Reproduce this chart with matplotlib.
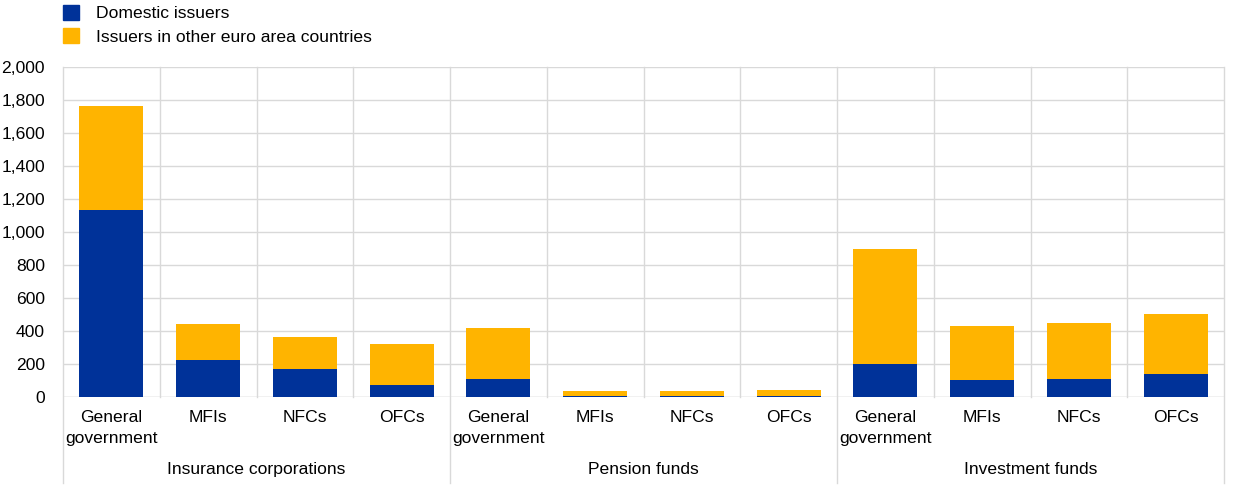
import matplotlib
matplotlib.use("Agg")
import matplotlib.pyplot as plt
from matplotlib.lines import Line2D
from matplotlib.patches import Patch
import matplotlib.transforms as mtransforms

plt.rcParams['font.family'] = ['Liberation Sans', 'DejaVu Sans']

groups = ["Insurance corporations", "Pension funds", "Investment funds"]
sectors = ["General\ngovernment", "MFIs", "NFCs", "OFCs"]
domestic = [1134, 226, 167, 72,
            110, 9, 4, 9,
            203, 102, 108, 137]
total = [1761, 444, 361, 321,
         420, 39, 35, 41,
         895, 432, 446, 501]
other_ea = [t - d for t, d in zip(total, domestic)]

blue = "#003299"
yellow = "#FFB400"
grid_c = "#d9d9d9"
fs = 12.6

fig = plt.figure(figsize=(12.4, 4.93), dpi=100)
ax = fig.add_axes([63/1240, 1-397/493, (1224-63)/1240, (397-67)/493])

n = len(domestic)
x = list(range(n))
ax.bar(x, domestic, width=0.66, color=blue, zorder=3)
ax.bar(x, other_ea, bottom=domestic, width=0.66, color=yellow, zorder=3)

ax.set_xlim(-0.5, n - 0.5)
ax.set_ylim(0, 2000)
ax.set_yticks(range(0, 2001, 200))
ax.set_yticklabels([f"{v:,}" for v in range(0, 2001, 200)], fontsize=fs)
ax.tick_params(axis='y', length=0, pad=13)
ax.tick_params(axis='x', length=0, labelbottom=False)
for s in ax.spines.values():
    s.set_visible(False)
ax.grid(axis='y', color=grid_c, linewidth=1, zorder=0)

# vertical separators
trans = mtransforms.blended_transform_factory(ax.transData, ax.transAxes)
for b in range(n + 1):
    xb = b - 0.5
    if b % 4 == 0:
        ax.add_line(Line2D([xb, xb], [-0.26, 1], transform=trans, color=grid_c,
                           linewidth=1, clip_on=False, zorder=1))
    else:
        ax.add_line(Line2D([xb, xb], [0, 1], transform=trans, color=grid_c,
                           linewidth=1, clip_on=False, zorder=1))
ax.axhline(0, color=grid_c, linewidth=1, zorder=2)

# category labels
for i in range(n):
    ax.text(i, -0.04, sectors[i % 4], transform=trans, ha='center', va='top',
            fontsize=fs, linespacing=1.5)
for g, name in enumerate(groups):
    ax.text(g * 4 + 1.5, -0.198, name, transform=trans, ha='center', va='top',
            fontsize=fs)

# legend
handles = [Patch(color=blue, label="Domestic issuers"),
           Patch(color=yellow, label="Issuers in other euro area countries")]
fig.legend(handles=handles, loc='upper left', bbox_to_anchor=(56/1240, 1.004),
           frameon=False, fontsize=fs, handlelength=0.9, handleheight=0.9,
           handletextpad=1.0, labelspacing=0.4, borderaxespad=0.0)

fig.savefig("out.png", dpi=100)
